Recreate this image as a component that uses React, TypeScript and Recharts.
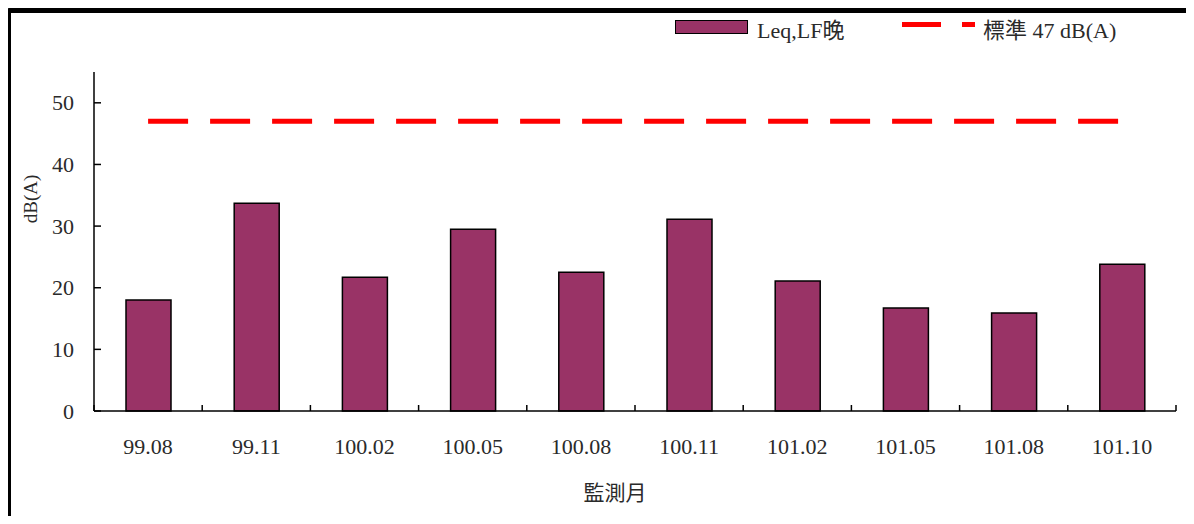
import React from 'react';
import { ComposedChart, Bar, Line, XAxis, YAxis } from 'recharts';

const months = ['99.08', '99.11', '100.02', '100.05', '100.08', '100.11', '101.02', '101.05', '101.08', '101.10'];
const leqEvening = [18.0, 33.7, 21.7, 29.5, 22.5, 31.1, 21.1, 16.7, 15.9, 23.8];
const standardLimit = [47, 47, 47, 47, 47, 47, 47, 47, 47, 47];
const yTicks = [0, 10, 20, 30, 40, 50];

const W = 1194;
const H = 524;
const MARGIN = { top: 72, right: 18, left: 0, bottom: 83 };
const Y_AXIS_W = 94;
const PLOT_W = W - MARGIN.left - MARGIN.right - Y_AXIS_W;
const BAND = PLOT_W / months.length;
const FONT = '"Liberation Serif", "Noto Sans CJK TC", serif';
const TEXT = '#2a2a2a';

const data = months.map((m, i) => ({
  month: m,
  leq: leqEvening[i],
  standard: standardLimit[i],
}));

const YTick = ({ x, y, payload }: any) => (
  <g>
    <line x1={x + 20} x2={x + 27} y1={y} y2={y} stroke="#000" strokeWidth={1.5} />
    <text x={x} y={y} textAnchor="end" dominantBaseline="central" fontSize={22} fontFamily={FONT} fill={TEXT}>
      {payload.value}
    </text>
  </g>
);

const XTick = ({ x, y, payload, index }: any) => (
  <g>
    {index === 0 && (
      <line x1={x - BAND / 2} x2={x - BAND / 2} y1={y} y2={y - 6} stroke="#000" strokeWidth={1.5} />
    )}
    <line x1={x + BAND / 2} x2={x + BAND / 2} y1={y} y2={y - 6} stroke="#000" strokeWidth={1.5} />
    <text x={x} y={y + 35} textAnchor="middle" dominantBaseline="central" fontSize={22} fontFamily={FONT} fill={TEXT}>
      {payload.value}
    </text>
  </g>
);

export default function App() {
  return (
    <div style={{ position: 'relative', width: W, height: H, margin: -8, background: '#fff', overflow: 'hidden' }}>
      <div
        style={{
          position: 'absolute',
          left: 7,
          top: 8,
          width: W,
          height: H,
          borderTop: '5px solid #000',
          borderLeft: '4px solid #000',
          borderTopLeftRadius: 3,
        }}
      />
      <ComposedChart width={W} height={H} data={data} margin={MARGIN} style={{ position: 'absolute', left: 0, top: 0 }}>
        <XAxis
          dataKey="month"
          stroke="#000"
          strokeWidth={1.5}
          tickLine={false}
          tickSize={0}
          tickMargin={0}
          height={30}
          interval={0}
          tick={<XTick />}
        />
        <YAxis
          domain={[0, 55]}
          ticks={yTicks}
          width={Y_AXIS_W}
          stroke="#000"
          strokeWidth={1.5}
          tickLine={false}
          tickSize={0}
          tickMargin={20}
          interval={0}
          tick={<YTick />}
        />
        <Bar dataKey="leq" barSize={45} fill="#993366" stroke="#000" strokeWidth={1.5} isAnimationActive={false} />
        <Line
          dataKey="standard"
          stroke="#ff0000"
          strokeWidth={5}
          strokeDasharray="40 22"
          dot={false}
          activeDot={false}
          isAnimationActive={false}
        />
      </ComposedChart>

      {/* axis titles */}
      <div
        style={{
          position: 'absolute',
          left: 31,
          top: 199,
          transform: 'translate(-50%, -50%) rotate(-90deg)',
          fontFamily: FONT,
          fontSize: 19,
          color: TEXT,
          whiteSpace: 'nowrap',
        }}
      >
        dB(A)
      </div>
      <div
        style={{
          position: 'absolute',
          left: 615,
          top: 491,
          transform: 'translate(-50%, -50%)',
          fontFamily: FONT,
          fontSize: 21,
          color: TEXT,
          whiteSpace: 'nowrap',
        }}
      >
        監測月
      </div>

      {/* legend */}
      <div style={{ position: 'absolute', left: 675, top: 20, width: 73, height: 14, boxSizing: 'border-box', background: '#993366', border: '1.5px solid #000' }} />
      <div style={{ position: 'absolute', left: 757, top: 28, transform: 'translateY(-50%)', fontFamily: FONT, fontSize: 22, color: TEXT, whiteSpace: 'nowrap' }}>
        Leq,LF晚
      </div>
      <div style={{ position: 'absolute', left: 902, top: 22, width: 39, height: 5, background: '#ff0000' }} />
      <div style={{ position: 'absolute', left: 962, top: 22, width: 13, height: 5, background: '#ff0000' }} />
      <div style={{ position: 'absolute', left: 983, top: 28, transform: 'translateY(-50%)', fontFamily: FONT, fontSize: 22, color: TEXT, whiteSpace: 'nowrap' }}>
        標準 47 dB(A)
      </div>
    </div>
  );
}
